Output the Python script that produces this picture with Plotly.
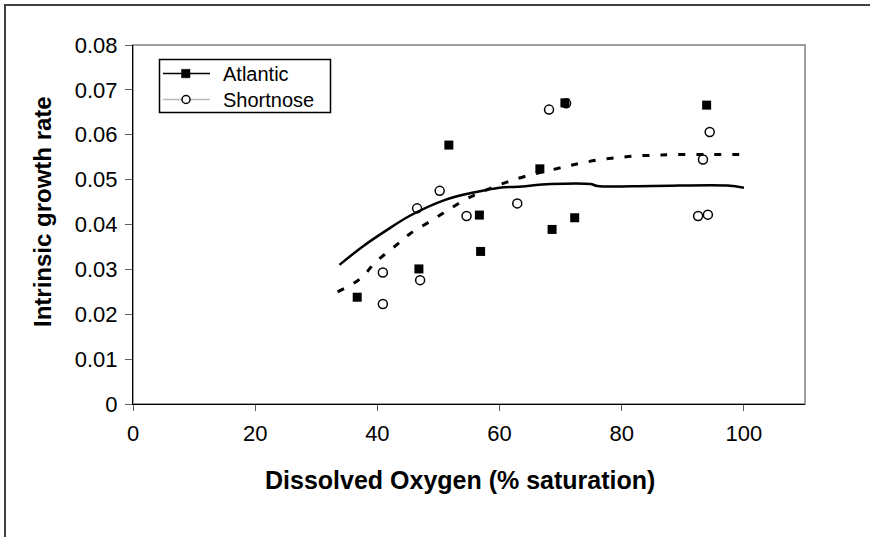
import plotly.graph_objects as go

# Observations
atl_x = [36.7, 46.8, 51.7, 56.7, 56.9, 66.6, 68.6, 70.7, 72.3, 93.9]
atl_y = [0.0238, 0.0301, 0.0577, 0.0421, 0.0340, 0.0524, 0.0389, 0.0671, 0.0415, 0.0666]
sn_x = [40.9, 40.9, 46.5, 47.0, 50.2, 54.6, 62.9, 68.1, 70.9, 92.5, 93.3, 94.1, 94.4]
sn_y = [0.0293, 0.0223, 0.0436, 0.0276, 0.0475, 0.0419, 0.0447, 0.0656, 0.0670, 0.0419, 0.0545, 0.0422, 0.0606]

# Fitted curves
atl_fit_x = [33.8, 37.5, 41.6, 45.4, 51.1, 56.0, 60.0, 62.9, 68.4, 74.9, 76.0, 85.0, 97.3, 100.0]
atl_fit_y = [0.0310, 0.0350, 0.0388, 0.0420, 0.0455, 0.0472, 0.0482, 0.0484, 0.0490, 0.0490, 0.0486, 0.0486, 0.0487, 0.0482]
sn_fit_x = [33.5, 37.2, 39.7, 43.0, 45.4, 49.0, 52.0, 55.0, 58.2, 61.1, 64.1, 70.2, 73.1, 76.2, 79.4, 82.4, 85.5, 88.3, 94.3, 100.0]
sn_fit_y = [0.0250, 0.0279, 0.0316, 0.0353, 0.0380, 0.0410, 0.0436, 0.0460, 0.0479, 0.0494, 0.0507, 0.0527, 0.0536, 0.0544, 0.0549, 0.0553, 0.0554, 0.0556, 0.0556, 0.0556]

series_names = ["Atlantic", "Shortnose"]

x_ticks = [0, 20, 40, 60, 80, 100]
y_ticks = [0, 0.01, 0.02, 0.03, 0.04, 0.05, 0.06, 0.07, 0.08]
y_tick_labels = ["0", "0.01", "0.02", "0.03", "0.04", "0.05", "0.06", "0.07", "0.08"]

x_title = "Dissolved Oxygen (% saturation)"
y_title = "Intrinsic growth rate"

FONT = "Arial, Liberation Sans, sans-serif"

# pixel geometry helpers (plot area 133..805 x 45..404)
L, R, T, B = 133, 805, 45, 404
def px(x):
    return (x - L) / (R - L)
def py(y):
    return (B - y) / (B - T)

fig = go.Figure()

fig.add_trace(go.Scatter(x=atl_fit_x, y=atl_fit_y, mode="lines", line=dict(color="black", width=2.5),
                         line_shape="spline", showlegend=False, hoverinfo="skip"))
fig.add_trace(go.Scatter(x=sn_fit_x, y=sn_fit_y, mode="lines", line=dict(color="black", width=3, dash="7px,11px"),
                         line_shape="spline", showlegend=False, hoverinfo="skip"))
fig.add_trace(go.Scatter(x=atl_x, y=atl_y, mode="markers", name=series_names[0],
                         marker=dict(symbol="square", size=9, color="black"), showlegend=False))
fig.add_trace(go.Scatter(x=sn_x, y=sn_y, mode="markers", name=series_names[1],
                         marker=dict(symbol="circle-open", size=9, color="black", line=dict(width=1.5)), showlegend=False))

shapes = [
    # plot area box (top/right gray)
    dict(type="rect", xref="paper", yref="paper", x0=0, x1=1, y0=0, y1=1,
         line=dict(color="#808080", width=1.5), layer="below"),
    # outer chart border
    dict(type="rect", xref="paper", yref="paper", x0=px(5), x1=px(880), y0=py(550), y1=py(5),
         line=dict(color="#404040", width=2), layer="below"),
    # legend box
    dict(type="rect", xref="paper", yref="paper", x0=px(159.5), x1=px(330.5), y0=py(112.5), y1=py(59.5),
         line=dict(color="black", width=1.5), fillcolor="white", layer="above"),
    # legend row 1: black line + square
    dict(type="line", xref="paper", yref="paper", x0=px(163), x1=px(210), y0=py(73.5), y1=py(73.5),
         line=dict(color="black", width=1.5), layer="above"),
    dict(type="rect", xref="paper", yref="paper", x0=px(181.5), x1=px(190), y0=py(77.8), y1=py(69.3),
         line=dict(color="black", width=0.5), fillcolor="black", layer="above"),
    # legend row 2: gray line + open circle
    dict(type="line", xref="paper", yref="paper", x0=px(163), x1=px(210), y0=py(99.5), y1=py(99.5),
         line=dict(color="#b8b8b8", width=1.5), layer="above"),
    dict(type="circle", xref="paper", yref="paper", x0=px(182), x1=px(190), y0=py(103.5), y1=py(95.5),
         line=dict(color="black", width=1.5), fillcolor="white", layer="above"),
]

annotations = [
    dict(text="<b>" + x_title + "</b>", xref="paper", yref="paper", x=px(460), y=py(480),
         xanchor="center", yanchor="middle", showarrow=False, font=dict(size=25, family=FONT)),
    dict(text="<b>" + y_title + "</b>", xref="paper", yref="paper", x=px(42), y=py(212),
         xanchor="center", yanchor="middle", showarrow=False, textangle=-90,
         font=dict(size=24, family=FONT)),
    dict(text=series_names[0], xref="paper", yref="paper", x=px(221), y=py(73.5),
         xanchor="left", yanchor="middle", showarrow=False, font=dict(size=20, family=FONT)),
    dict(text=series_names[1], xref="paper", yref="paper", x=px(221), y=py(99.5),
         xanchor="left", yanchor="middle", showarrow=False, font=dict(size=20, family=FONT)),
]

fig.update_layout(
    width=870, height=537,
    margin=dict(l=L, r=870 - R, t=T, b=537 - B),
    paper_bgcolor="white", plot_bgcolor="white",
    font=dict(family=FONT, color="black", size=22),
    showlegend=False,
    xaxis=dict(range=[0, 110], tickvals=x_ticks, ticktext=[str(v) for v in x_ticks],
               showgrid=False, zeroline=False, showline=True, linecolor="black", linewidth=1.2,
               ticks="outside", ticklen=6, tickcolor="#606060", tickfont=dict(size=22),
               ticklabelstandoff=3),
    yaxis=dict(range=[0, 0.08], tickvals=y_ticks, ticktext=y_tick_labels,
               showgrid=False, zeroline=False, showline=True, linecolor="black", linewidth=1.2,
               ticks="outside", ticklen=7, tickcolor="#606060", tickfont=dict(size=22),
               ticklabelstandoff=3),
    shapes=shapes,
    annotations=annotations,
)

fig.write_html("out.html")
